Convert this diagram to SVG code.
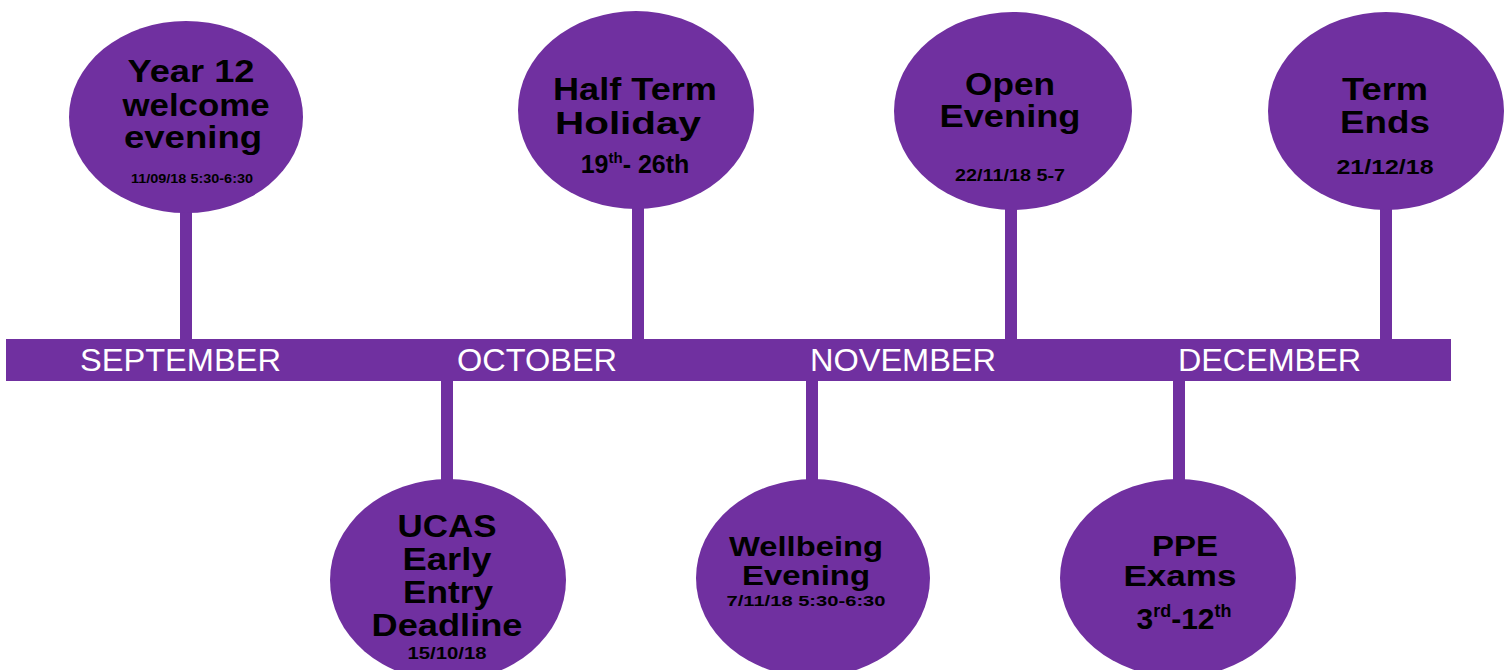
<svg xmlns="http://www.w3.org/2000/svg" width="1509" height="670" viewBox="0 0 1509 670">
<style>
.p{fill:#7030A0}
.t{font-family:"Liberation Sans",Arial,sans-serif;font-weight:bold;fill:#000;text-anchor:middle}
.m{font-family:"Liberation Sans",Arial,sans-serif;fill:#fff;font-size:31px}
</style>
<rect width="1509" height="670" fill="#fff"/>
<g id="connectors" class="p">
<rect x="180" y="190" width="12" height="152"/>
<rect x="632" y="190" width="12" height="152"/>
<rect x="1005" y="190" width="12" height="152"/>
<rect x="1380" y="190" width="12" height="152"/>
<rect x="441" y="378" width="12" height="110"/>
<rect x="806" y="378" width="12" height="110"/>
<rect x="1173" y="378" width="12" height="110"/>
</g>
<g id="timeline">
<rect class="p" x="6" y="339" width="1445" height="42"/>
<text class="m" x="80" y="371" textLength="201" lengthAdjust="spacingAndGlyphs">SEPTEMBER</text>
<text class="m" x="457" y="371" textLength="160" lengthAdjust="spacingAndGlyphs">OCTOBER</text>
<text class="m" x="810" y="371" textLength="186" lengthAdjust="spacingAndGlyphs">NOVEMBER</text>
<text class="m" x="1178" y="371" textLength="183" lengthAdjust="spacingAndGlyphs">DECEMBER</text>
</g>
<g id="year12">
<ellipse class="p" cx="186" cy="117" rx="117" ry="96"/>
<text class="t" font-size="32"><tspan x="191" y="82" textLength="127" lengthAdjust="spacingAndGlyphs">Year 12</tspan><tspan x="196" y="116" textLength="147" lengthAdjust="spacingAndGlyphs">welcome</tspan><tspan x="193" y="148" textLength="138" lengthAdjust="spacingAndGlyphs">evening</tspan></text>
<text class="t" font-size="12" x="192" y="183" textLength="122" lengthAdjust="spacingAndGlyphs">11/09/18 5:30-6:30</text>
</g>
<g id="halfterm">
<ellipse class="p" cx="636" cy="110" rx="118" ry="99"/>
<text class="t" font-size="32"><tspan x="635" y="100" textLength="164" lengthAdjust="spacingAndGlyphs">Half Term</tspan><tspan x="628" y="134" textLength="146" lengthAdjust="spacingAndGlyphs">Holiday</tspan></text>
<text class="t" font-size="25" x="635" y="173">19<tspan font-size="15" dy="-10">th</tspan><tspan dy="10">- 26th</tspan></text>
</g>
<g id="open">
<ellipse class="p" cx="1013" cy="111" rx="119" ry="99"/>
<text class="t" font-size="32"><tspan x="1010" y="95" textLength="90" lengthAdjust="spacingAndGlyphs">Open</tspan><tspan x="1010" y="127" textLength="141" lengthAdjust="spacingAndGlyphs">Evening</tspan></text>
<text class="t" font-size="17" x="1010" y="181" textLength="110" lengthAdjust="spacingAndGlyphs">22/11/18 5-7</text>
</g>
<g id="termends">
<ellipse class="p" cx="1386" cy="111" rx="118" ry="99"/>
<text class="t" font-size="32"><tspan x="1385" y="100" textLength="86" lengthAdjust="spacingAndGlyphs">Term</tspan><tspan x="1385" y="133" textLength="90" lengthAdjust="spacingAndGlyphs">Ends</tspan></text>
<text class="t" font-size="20" x="1385" y="174" textLength="97" lengthAdjust="spacingAndGlyphs">21/12/18</text>
</g>
<g id="ucas">
<ellipse class="p" cx="448" cy="580" rx="118" ry="101"/>
<text class="t" font-size="32"><tspan x="447" y="537" textLength="99" lengthAdjust="spacingAndGlyphs">UCAS</tspan><tspan x="447" y="570" textLength="89" lengthAdjust="spacingAndGlyphs">Early</tspan><tspan x="448" y="603" textLength="90" lengthAdjust="spacingAndGlyphs">Entry</tspan><tspan x="447" y="636" textLength="151" lengthAdjust="spacingAndGlyphs">Deadline</tspan></text>
<text class="t" font-size="17" x="447" y="659" textLength="79" lengthAdjust="spacingAndGlyphs">15/10/18</text>
</g>
<g id="wellbeing">
<ellipse class="p" cx="813" cy="578" rx="117" ry="99"/>
<text class="t" font-size="28"><tspan x="806" y="556" textLength="154" lengthAdjust="spacingAndGlyphs">Wellbeing</tspan><tspan x="806" y="585" textLength="128" lengthAdjust="spacingAndGlyphs">Evening</tspan></text>
<text class="t" font-size="15" x="806" y="606" textLength="159" lengthAdjust="spacingAndGlyphs">7/11/18 5:30-6:30</text>
</g>
<g id="ppe">
<ellipse class="p" cx="1178" cy="578" rx="118" ry="99"/>
<text class="t" font-size="29"><tspan x="1185" y="556" textLength="66" lengthAdjust="spacingAndGlyphs">PPE</tspan><tspan x="1180" y="586" textLength="113" lengthAdjust="spacingAndGlyphs">Exams</tspan></text>
<text class="t" font-size="30" x="1184" y="629">3<tspan font-size="18" dy="-12">rd</tspan><tspan dy="12">-12</tspan><tspan font-size="18" dy="-12">th</tspan></text>
</g>
</svg>
